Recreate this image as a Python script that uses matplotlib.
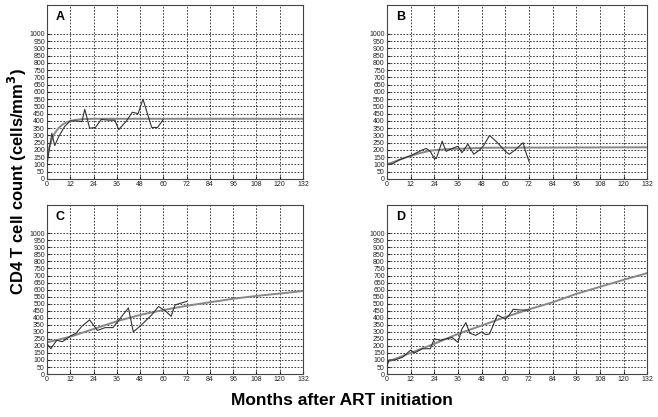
import numpy as np
import matplotlib
matplotlib.use("Agg")
import matplotlib.pyplot as plt

plt.rcParams['font.family'] = ['Liberation Sans', 'DejaVu Sans']

# 观测值 (months, cells/mm3)
a_obs_t = [0, 2.5, 4, 6, 9, 12, 15, 18, 19.5, 22, 25, 28, 32, 35, 37, 41, 44, 47, 49.5, 54, 57, 60]
a_obs_v = [100, 315, 230, 290, 360, 400, 400, 395, 480, 350, 355, 410, 405, 405, 340, 400, 460, 450, 550, 355, 355, 410]
a_fit_t = [0, 1, 2, 3, 4, 6, 8, 10, 12, 15, 18, 24, 132]
a_fit_v = [150, 210, 255, 290, 315, 352, 375, 390, 400, 408, 412, 415, 415]

b_obs_t = [0, 3, 6, 12, 18, 20, 22, 24, 25, 28, 30, 33, 36, 38, 41, 44, 47, 49, 52, 56, 60, 62, 65, 69, 70, 72]
b_obs_v = [100, 105, 130, 160, 200, 210, 190, 140, 140, 260, 190, 210, 225, 180, 240, 170, 200, 230, 300, 250, 190, 170, 200, 250, 200, 120]
b_fit_t = [0, 4, 10, 16, 22, 30, 40, 50, 132]
b_fit_v = [100, 120, 150, 175, 195, 205, 210, 215, 218]

c_obs_t = [0, 2, 5, 8, 12, 15, 18, 22, 26, 30, 34, 38, 42, 44.5, 48, 54, 57.5, 61, 64, 66, 68, 72]
c_obs_v = [215, 180, 240, 230, 270, 290, 340, 385, 310, 330, 330, 400, 470, 300, 340, 420, 480, 450, 410, 490, 500, 515]
c_fit_t = [0, 12, 24, 36, 48, 60, 72, 84, 96, 108, 120, 132]
c_fit_v = [225, 265, 320, 375, 420, 455, 485, 510, 535, 555, 572, 590]

d_obs_t = [0, 1, 4, 8, 12, 14, 18, 22, 24, 27, 30, 33, 36, 38, 40, 42, 45, 48, 50, 52, 56, 60, 62, 64, 68, 72]
d_obs_v = [50, 100, 100, 120, 170, 150, 180, 180, 250, 240, 250, 260, 225, 320, 365, 290, 275, 300, 280, 285, 420, 390, 420, 460, 455, 455]
d_fit_t = [0, 12, 24, 36, 48, 60, 72, 84, 96, 108, 120, 132]
d_fit_v = [85, 150, 215, 285, 345, 405, 460, 510, 570, 620, 670, 718]

panels = [
    ("A", a_obs_t, a_obs_v, a_fit_t, a_fit_v),
    ("B", b_obs_t, b_obs_v, b_fit_t, b_fit_v),
    ("C", c_obs_t, c_obs_v, c_fit_t, c_fit_v),
    ("D", d_obs_t, d_obs_v, d_fit_t, d_fit_v),
]

x_ticks = list(range(0, 133, 12))
y_ticks = list(range(0, 1001, 50))

fig = plt.figure(figsize=(6.58, 4.17), dpi=100)
rects = [
    [0.0714, 0.571, 0.389, 0.417],
    [0.588, 0.571, 0.396, 0.417],
    [0.0714, 0.103, 0.389, 0.405],
    [0.588, 0.103, 0.396, 0.405],
]

for rect, (name, ot, ov, ft, fv) in zip(rects, panels):
    ax = fig.add_axes(rect)
    ax.set_xlim(0, 132)
    ax.set_ylim(0, 1200)
    ax.set_xticks(x_ticks)
    ax.set_yticks(y_ticks)
    ax.tick_params(labelsize=5, length=2, direction='in', pad=1.5, colors='#222222')
    # 网格：虚线
    for y in y_ticks[1:]:
        ax.axhline(y, color='#222222', lw=0.6, ls=(0, (2, 1.8)), zorder=1)
    for x in x_ticks[1:-1]:
        ax.axvline(x, color='#222222', lw=0.6, ls=(0, (2, 1.8)), zorder=1)
    ax.plot(ft, fv, color='#888888', lw=1.4, zorder=2)
    ax.plot(ot, ov, color='#333333', lw=0.8, zorder=3)
    ax.text(0.035, 0.93, name, transform=ax.transAxes, fontsize=9, fontweight='bold', va='center')
    for s in ax.spines.values():
        s.set_color('#444444')
        s.set_linewidth(0.8)

fig.text(0.027, 0.564, "CD4 T cell count (cells/mm$^\\mathbf{3}$)", rotation=90,
         fontsize=12, fontweight='bold', ha='center', va='center')
fig.text(0.52, 0.04, "Months after ART initiation", fontsize=12.5, fontweight='bold',
         ha='center', va='center')

fig.savefig("out.png", dpi=100)
